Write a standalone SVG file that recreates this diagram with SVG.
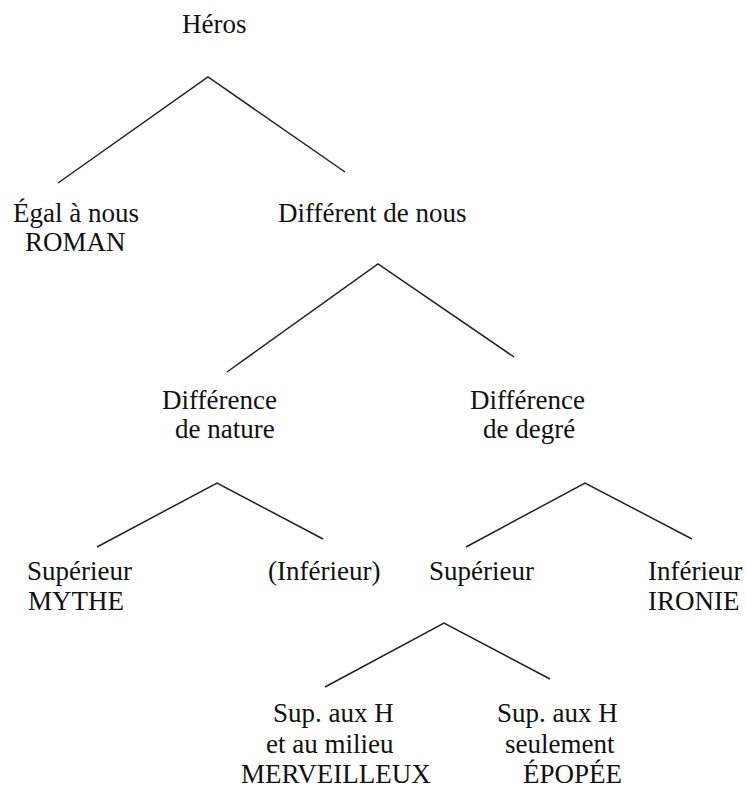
<svg xmlns="http://www.w3.org/2000/svg" width="747" height="789" viewBox="0 0 747 789">
<style>
text { font-size: 27px; fill: #111; }
.c { fill: none; stroke: #222; stroke-width: 1.5; stroke-linejoin: miter; }
</style>
<rect width="747" height="789" fill="#fff"/>
<g id="connectors">
<polyline class="c" points="58,183 208,77 345,172"/>
<polyline class="c" points="227,372 378,264 514,357"/>
<polyline class="c" points="97,547 217,483 323,539"/>
<polyline class="c" points="466,547 585,483 692,539"/>
<polyline class="c" points="325,687 444,623 550,679"/>
</g>
<g font-family="'Liberation Serif', 'DejaVu Serif', serif">
<g id="heros"><text x="182" y="33">Héros</text></g>
<g id="egal"><text x="13" y="222">Égal à nous</text><text x="25" y="251">ROMAN</text></g>
<g id="different"><text x="278" y="222">Différent de nous</text></g>
<g id="nature"><text x="162" y="409">Différence</text><text x="175" y="438">de nature</text></g>
<g id="degre"><text x="470" y="409">Différence</text><text x="483" y="438">de degré</text></g>
<g id="mythe"><text x="27" y="580">Supérieur</text><text x="28" y="610">MYTHE</text></g>
<g id="inferieur1"><text x="268" y="580">(Inférieur)</text></g>
<g id="superieur2"><text x="429" y="580">Supérieur</text></g>
<g id="ironie"><text x="648" y="580">Inférieur</text><text x="648" y="610">IRONIE</text></g>
<g id="merveilleux"><text x="273" y="722">Sup. aux H</text><text x="266" y="753">et au milieu</text><text x="241" y="783">MERVEILLEUX</text></g>
<g id="epopee"><text x="497" y="722">Sup. aux H</text><text x="505" y="753">seulement</text><text x="523" y="783">ÉPOPÉE</text></g>
</g>
</svg>
